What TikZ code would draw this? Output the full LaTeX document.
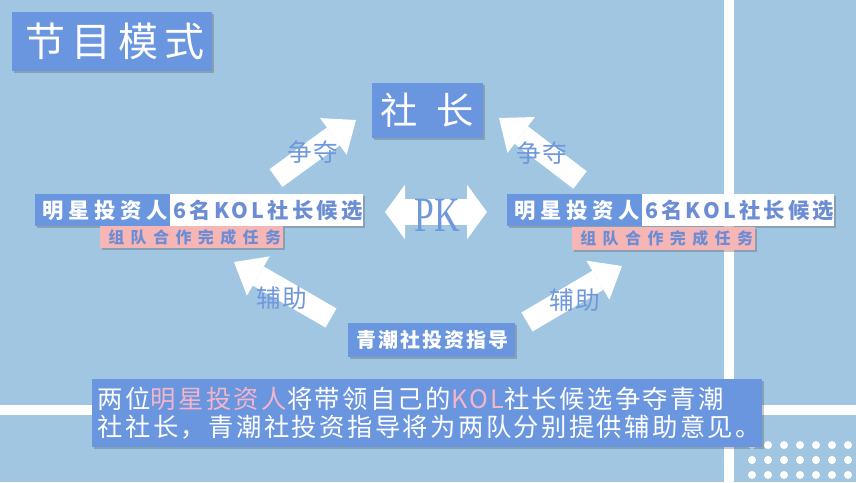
\documentclass[tikz,border=0pt]{standalone}
\usepackage{fontspec}
\setmainfont{Liberation Serif}
\newfontfamily\cjk{Noto Sans CJK SC}
\usetikzlibrary{arrows.meta,shadows}
\definecolor{bg}{HTML}{A0C6E1}
\definecolor{boxblue}{HTML}{6A95DF}
\definecolor{txtblue}{HTML}{6C8DD4}
\definecolor{pinkbox}{HTML}{F6B6B6}
\definecolor{pinktxt}{HTML}{F2B6CA}
\definecolor{lblblue}{HTML}{6F97DC}
\newcommand\fsz[2]{\fontsize{#1}{#2}\selectfont}
\newcommand\lsp[1]{\addfontfeatures{LetterSpace=#1}}
\begin{document}
\begin{tikzpicture}[x=0.75pt,y=-0.75pt,
  shad/.style={drop shadow={shadow xshift=1.5pt,shadow yshift=-1.5pt,opacity=0.3,fill=black!70}},
  boxbase/.style={inner sep=0pt,shad,anchor=center},
  bluebox/.style={boxbase,fill=boxblue,text=white},
  whitebox/.style={boxbase,fill=white,text=txtblue},
  pinkboxst/.style={boxbase,fill=pinkbox,text=txtblue},
  lbl/.style={text=lblblue,font=\cjk\fsz{18.5pt}{20pt}\lsp{5}},
  bigarrow/.style={draw=white,line width=16.5pt,-{Triangle[width=34pt,length=21pt,line width=0pt]}},
  pkarrow/.style={draw=white,line width=20pt,{Triangle[width=41pt,length=15pt,line width=0pt]}-{Triangle[width=41pt,length=15pt,line width=0pt]}}
]
\useasboundingbox (0,0) rectangle (856,482);
\fill[bg] (0,0) rectangle (856,482);
% white lines
\fill[white] (724,0) rectangle (734,482);
\fill[white] (0,405) rectangle (100,415);
\fill[white] (734,405) rectangle (856,415);
% dots
\foreach \yy in {445,460,475}{
  \foreach \xx in {752,768,...,848}{
    \fill[white] (\xx,\yy) circle (3pt);
  }
}
% title
\node[bluebox,minimum width=150pt,minimum height=44pt,font=\cjk\fsz{30pt}{32pt}\lsp{15}] (title) at (112,41.5) {\hspace{4.5pt}节目模式};
% top node
\node[bluebox,minimum width=83.25pt,minimum height=41.25pt,font=\cjk\fsz{28pt}{30pt}] (boss) at (427.5,110.5) {社\hspace{14pt}长};
% left group
\node[bluebox,minimum width=101.25pt,minimum height=24pt,font=\cjk\fsz{16pt}{18pt}\bfseries\lsp{22}] (starL) at (102.5,210) {\hspace{3.5pt}明星投资人};
\node[whitebox,minimum width=144.75pt,minimum height=24pt,font=\cjk\fsz{16pt}{18pt}\bfseries\lsp{15}] (kolL) at (266.5,210) {\hspace{2.4pt}6名KOL社长候选};
\node[pinkboxst,minimum width=137.25pt,minimum height=16.5pt,font=\cjk\fsz{12pt}{14pt}\bfseries\lsp{40}] (taskL) at (191.5,237) {\hspace{4.8pt}组队合作完成任务};
% right group
\node[bluebox,minimum width=101.25pt,minimum height=24pt,font=\cjk\fsz{16pt}{18pt}\bfseries\lsp{22}] (starR) at (574.5,210) {\hspace{3.5pt}明星投资人};
\node[whitebox,minimum width=144pt,minimum height=24pt,font=\cjk\fsz{16pt}{18pt}\bfseries\lsp{15}] (kolR) at (738,210) {\hspace{2.4pt}6名KOL社长候选};
\node[pinkboxst,minimum width=137.25pt,minimum height=17pt,font=\cjk\fsz{12pt}{14pt}\bfseries\lsp{40}] (taskR) at (663.5,238.5) {\hspace{4.8pt}组队合作完成任务};
% bottom node
\node[bluebox,minimum width=125.25pt,minimum height=25.5pt,font=\cjk\fsz{15pt}{17pt}\bfseries\lsp{10}] (coach) at (431.5,340) {\hspace{1.5pt}青潮社投资指导};
% arrow end points
\coordinate (a1s) at (276,178); \coordinate (a1e) at (356,120);
\coordinate (a2s) at (580,180); \coordinate (a2e) at (499,118);
\coordinate (a3s) at (331,318); \coordinate (a3e) at (234,262);
\coordinate (a4s) at (527,322); \coordinate (a4e) at (622,266);
\coordinate (pkl) at (385,212); \coordinate (pkr) at (487,212);
\draw[bigarrow] (a1s) -- (a1e);
\draw[bigarrow] (a2s) -- (a2e);
\draw[bigarrow] (a3s) -- (a3e);
\draw[bigarrow] (a4s) -- (a4e);
\draw[pkarrow] (pkl) -- (pkr);
\node[text=lblblue,font=\fsz{37pt}{40pt},inner sep=0pt] (pk) at (437,215) {\scalebox{0.72}[1]{PK}};
% labels
\node[lbl] (l1) at (313,152) {争夺};
\node[lbl] (l2) at (542,153) {争夺};
\node[lbl] (l3) at (282,298) {辅助};
\node[lbl] (l4) at (575,300) {辅助};
% description
\node[bluebox,minimum width=502.5pt,minimum height=51pt,text width=494pt,align=left,font=\cjk\fsz{19pt}{21.5pt}\lsp{9.5}] (desc) at (427,413)
{两位\textcolor{pinktxt}{明星投资人}将带领自己的\textcolor{pinktxt}{KOL}社长候选争夺青潮\\社社长，青潮社投资指导将为两队分别提供辅助意见。};
\end{tikzpicture}
\end{document}
